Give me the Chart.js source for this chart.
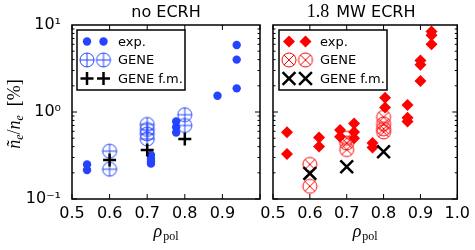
<!DOCTYPE html>
<html>
<head>
<meta charset="utf-8">
<script src="https://cdn.jsdelivr.net/npm/chart.js@4.4.0/dist/chart.umd.min.js"></script>
<style>
  html, body { margin: 0; padding: 0; background: #fff; }
  #wrap { position: relative; width: 475px; height: 250px; }
  canvas { position: absolute; left: 0; top: 0; }
</style>
</head>
<body>
<div id="wrap">
  <canvas id="left" width="475" height="250"></canvas>
  <canvas id="right" width="475" height="250"></canvas>
</div>
<script>
// values
const xTickValues = [0.5, 0.6, 0.7, 0.8, 0.9, 1.0];
const yDecades = [0.1, 1, 10];

// left panel: no ECRH
const noExpX = [0.54, 0.54, 0.71, 0.71, 0.71, 0.71, 0.777, 0.777, 0.777, 0.887, 0.938, 0.938, 0.938];
const noExpY = [0.25, 0.215, 0.32, 0.29, 0.27, 0.255, 0.78, 0.67, 0.58, 1.54, 5.9, 4.0, 1.87];
const noGeneX = [0.6, 0.6, 0.7, 0.7, 0.7, 0.7, 0.8, 0.8];
const noGeneY = [0.355, 0.22, 0.72, 0.63, 0.56, 0.49, 0.93, 0.70];
const noFmX = [0.6, 0.7, 0.8];
const noFmY = [0.28, 0.365, 0.49];

// right panel: 1.8 MW ECRH
const ecExpX = [0.538, 0.538, 0.625, 0.625, 0.682, 0.682, 0.72, 0.72, 0.72, 0.77, 0.77, 0.804, 0.804,
                0.865, 0.865, 0.865, 0.90, 0.90, 0.90, 0.93, 0.93, 0.93];
const ecExpY = [0.585, 0.33, 0.51, 0.40, 0.62, 0.52, 0.74, 0.59, 0.50, 0.44, 0.39, 1.46, 1.13,
                1.2, 0.86, 0.78, 3.9, 3.5, 2.27, 8.4, 7.6, 6.0];
const ecGeneX = [0.6, 0.6, 0.7, 0.7, 0.7, 0.8, 0.8, 0.8, 0.8];
const ecGeneY = [0.25, 0.14, 0.50, 0.44, 0.37, 0.87, 0.73, 0.64, 0.59];
const ecFmX = [0.6, 0.7, 0.8];
const ecFmY = [0.197, 0.235, 0.35];

const BLUE = '#2444ff';
const RED = '#ff0000';
const DOT_R = 4.2;
const DIAMOND_R = 6;

function ringMarker(color, r, kind) {
  const s = Math.ceil(2 * r + 4);
  const c = document.createElement('canvas');
  c.width = s; c.height = s;
  const g = c.getContext('2d');
  const m = s / 2;
  g.strokeStyle = color;
  g.lineWidth = 1;
  g.beginPath(); g.arc(m, m, r, 0, Math.PI * 2); g.stroke();
  g.beginPath();
  if (kind === 'plus') {
    g.moveTo(m - r, m); g.lineTo(m + r, m);
    g.moveTo(m, m - r); g.lineTo(m, m + r);
  } else {
    const d = r * Math.SQRT1_2;
    g.moveTo(m - d, m - d); g.lineTo(m + d, m + d);
    g.moveTo(m - d, m + d); g.lineTo(m + d, m - d);
  }
  g.stroke();
  return c;
}
const circPlus = ringMarker(BLUE, 7, 'plus');
const circX = ringMarker(RED, 7, 'x');

const markerStyle = {
  dot: { pointStyle: 'circle', pointRadius: DOT_R, pointBackgroundColor: BLUE, pointBorderWidth: 0 },
  diamond: { pointStyle: 'rectRot', pointRadius: DIAMOND_R, pointBackgroundColor: RED, pointBorderWidth: 0 },
  circPlus: { pointStyle: circPlus, pointRadius: 7 },
  circX: { pointStyle: circX, pointRadius: 7 },
  plus: { pointStyle: 'cross', pointRadius: 6.5, pointBorderColor: '#000', pointBorderWidth: 2.5 },
  cross: { pointStyle: 'crossRot', pointRadius: 9, pointBorderColor: '#000', pointBorderWidth: 2.5 }
};

function pts(xs, ys) {
  return xs.map((x, i) => ({ x: x, y: ys[i] }));
}

function drawLegendMarker(ctx, kind, x, y) {
  ctx.save();
  if (kind === 'dot') {
    ctx.fillStyle = BLUE;
    ctx.beginPath(); ctx.arc(x, y, DOT_R, 0, Math.PI * 2); ctx.fill();
  } else if (kind === 'diamond') {
    const r = DIAMOND_R;
    ctx.fillStyle = RED;
    ctx.beginPath();
    ctx.moveTo(x - r, y); ctx.lineTo(x, y - r); ctx.lineTo(x + r, y); ctx.lineTo(x, y + r);
    ctx.closePath(); ctx.fill();
  } else if (kind === 'circPlus' || kind === 'circX') {
    const img = kind === 'circPlus' ? circPlus : circX;
    ctx.drawImage(img, x - img.width / 2, y - img.height / 2);
  } else if (kind === 'plus') {
    const r = 6.5;
    ctx.strokeStyle = '#000'; ctx.lineWidth = 2.5;
    ctx.beginPath();
    ctx.moveTo(x - r, y); ctx.lineTo(x + r, y);
    ctx.moveTo(x, y - r); ctx.lineTo(x, y + r);
    ctx.stroke();
  } else if (kind === 'cross') {
    const r = 6.4;
    ctx.strokeStyle = '#000'; ctx.lineWidth = 2.5;
    ctx.beginPath();
    ctx.moveTo(x - r, y - r); ctx.lineTo(x + r, y + r);
    ctx.moveTo(x - r, y + r); ctx.lineTo(x + r, y - r);
    ctx.stroke();
  }
  ctx.restore();
}

function line(ctx, x1, y1, x2, y2) {
  ctx.beginPath(); ctx.moveTo(x1, y1); ctx.lineTo(x2, y2); ctx.stroke();
}

const panelPlugin = {
  id: 'panel',
  afterDraw(chart, args, opts) {
    const ctx = chart.ctx;
    const a = chart.chartArea;
    const xs = chart.scales.x;
    const ys = chart.scales.y;
    ctx.save();
    ctx.strokeStyle = '#000';
    ctx.lineWidth = 1;
    // inward ticks on all four sides
    xTickValues.forEach(v => {
      const px = xs.getPixelForValue(v);
      line(ctx, px, a.bottom, px, a.bottom - 5);
      line(ctx, px, a.top, px, a.top + 5);
    });
    for (let d = 0.1; d < 10; d *= 10) {
      for (let m = 1; m <= 9; m++) {
        const py = ys.getPixelForValue(d * m);
        const len = m === 1 ? 5 : 2.5;
        line(ctx, a.left, py, a.left + len, py);
        line(ctx, a.right, py, a.right - len, py);
      }
    }
    ctx.lineWidth = 1.5;
    ctx.strokeRect(a.left, a.top, a.right - a.left, a.bottom - a.top);

    // title
    ctx.fillStyle = '#000';
    ctx.textBaseline = 'alphabetic';
    if (opts.titleNum) {
      ctx.font = '18px "Liberation Serif"';
      const w1 = ctx.measureText(opts.titleNum).width;
      ctx.font = '16px "DejaVu Sans"';
      const w2 = ctx.measureText(opts.title).width;
      const gap = 7;
      const x0 = (a.left + a.right) / 2 - 4 - (w1 + gap + w2) / 2;
      ctx.font = '18px "Liberation Serif"';
      ctx.textAlign = 'left';
      ctx.fillText(opts.titleNum, x0, 17);
      ctx.font = '16px "DejaVu Sans"';
      ctx.fillText(opts.title, x0 + w1 + gap, 17);
    } else {
      ctx.font = '16px "DejaVu Sans"';
      ctx.textAlign = 'center';
      ctx.fillText(opts.title, (a.left + a.right) / 2, 17);
    }

    // x label: rho_pol
    ctx.textAlign = 'left';
    ctx.font = 'italic 18px "Liberation Serif"';
    const wr = ctx.measureText('\u03c1').width;
    ctx.font = '12px "Liberation Serif"';
    const wp = ctx.measureText('pol').width;
    const xl = (a.left + a.right) / 2 - (wr + wp + 1) / 2;
    ctx.font = 'italic 18px "Liberation Serif"';
    ctx.fillText('\u03c1', xl, 237);
    ctx.font = '12px "Liberation Serif"';
    ctx.fillText('pol', xl + wr + 1, 240);

    // y label on the left panel only
    if (opts.yLabel) {
      ctx.save();
      ctx.translate(20, (a.top + a.bottom) / 2 + 2);
      ctx.rotate(-Math.PI / 2);
      const parts = [
        ['\u00f1', 'italic 18px "Liberation Serif"', 0],
        ['e', 'italic 12px "Liberation Serif"', 3],
        ['/', '18px "Liberation Serif"', 0],
        ['n', 'italic 18px "Liberation Serif"', 0],
        ['e', 'italic 12px "Liberation Serif"', 3],
        ['  [%]', '18px "Liberation Serif"', 0]
      ];
      let total = 0;
      parts.forEach(p => { ctx.font = p[1]; total += ctx.measureText(p[0]).width; });
      let cx = -total / 2;
      parts.forEach(p => {
        ctx.font = p[1];
        ctx.fillText(p[0], cx, p[2]);
        cx += ctx.measureText(p[0]).width;
      });
      ctx.restore();
    }

    // legend with two markers per row
    const L = opts.legend;
    ctx.fillStyle = '#fff';
    ctx.fillRect(L.x, L.y, L.w, L.h);
    ctx.lineWidth = 1.5;
    ctx.strokeStyle = '#000';
    ctx.strokeRect(L.x, L.y, L.w, L.h);
    ctx.font = '13px "DejaVu Sans"';
    ctx.fillStyle = '#000';
    ctx.textAlign = 'left';
    ctx.textBaseline = 'middle';
    L.items.forEach((it, i) => {
      const yy = L.y + 11.5 + i * 18.5;
      drawLegendMarker(ctx, it.kind, L.x + 10, yy);
      drawLegendMarker(ctx, it.kind, L.x + 26.5, yy);
      ctx.fillText(it.label, L.x + 41, yy + 1);
    });
    ctx.restore();
  }
};

function makePanel(id, sets, layoutPad, showY, panelOpts) {
  return new Chart(document.getElementById(id), {
    type: 'scatter',
    data: {
      datasets: sets.map(s => Object.assign({
        label: s.label,
        data: s.data,
        order: s.order
      }, markerStyle[s.kind]))
    },
    options: {
      responsive: false,
      animation: false,
      events: [],
      layout: { padding: layoutPad },
      scales: {
        x: {
          type: 'linear',
          min: 0.5,
          max: 1.0,
          afterFit: s => { s.height = 51; },
          afterBuildTicks: s => { s.ticks = xTickValues.map(v => ({ value: v })); },
          grid: { display: false, drawTicks: false },
          border: { display: false },
          ticks: {
            autoSkip: false,
            maxRotation: 0,
            padding: 5,
            color: '#000',
            font: { family: 'DejaVu Sans', size: 16 },
            callback: v => (!showY || v < 0.99) ? v.toFixed(1) : ''
          }
        },
        y: {
          type: 'logarithmic',
          min: 0.1,
          max: 10,
          afterFit: s => { s.width = showY ? 72 : 0; },
          afterBuildTicks: s => { s.ticks = yDecades.map(v => ({ value: v })); },
          grid: { display: false, drawTicks: false },
          border: { display: false },
          ticks: {
            display: showY,
            autoSkip: false,
            padding: 11,
            color: '#000',
            font: { family: 'DejaVu Sans', size: 16 },
            callback: v => {
              const e = Math.round(Math.log10(v));
              return '10' + (e === 1 ? '\u00b9' : e === 0 ? '\u2070' : '\u207b\u00b9');
            }
          }
        }
      },
      plugins: {
        legend: { display: false },
        tooltip: { enabled: false },
        panel: panelOpts
      }
    },
    plugins: [panelPlugin]
  });
}

makePanel('left', [
  { label: 'exp.', kind: 'dot', order: 2, data: pts(noExpX, noExpY) },
  { label: 'GENE', kind: 'circPlus', order: 1, data: pts(noGeneX, noGeneY) },
  { label: 'GENE f.m.', kind: 'plus', order: 0, data: pts(noFmX, noFmY) }
], { top: 25, right: 215, left: 0, bottom: 0 }, true, {
  title: 'no ECRH',
  yLabel: true,
  legend: {
    x: 77, y: 30, w: 108, h: 60,
    items: [
      { kind: 'dot', label: 'exp.' },
      { kind: 'circPlus', label: 'GENE' },
      { kind: 'plus', label: 'GENE f.m.' }
    ]
  }
});

makePanel('right', [
  { label: 'exp.', kind: 'diamond', order: 2, data: pts(ecExpX, ecExpY) },
  { label: 'GENE', kind: 'circX', order: 1, data: pts(ecGeneX, ecGeneY) },
  { label: 'GENE f.m.', kind: 'cross', order: 0, data: pts(ecFmX, ecFmY) }
], { top: 25, right: 14, left: 273, bottom: 0 }, false, {
  title: 'MW ECRH',
  titleNum: '1.8',
  yLabel: false,
  legend: {
    x: 279, y: 30, w: 108, h: 60,
    items: [
      { kind: 'diamond', label: 'exp.' },
      { kind: 'circX', label: 'GENE' },
      { kind: 'cross', label: 'GENE f.m.' }
    ]
  }
});
</script>
</body>
</html>
